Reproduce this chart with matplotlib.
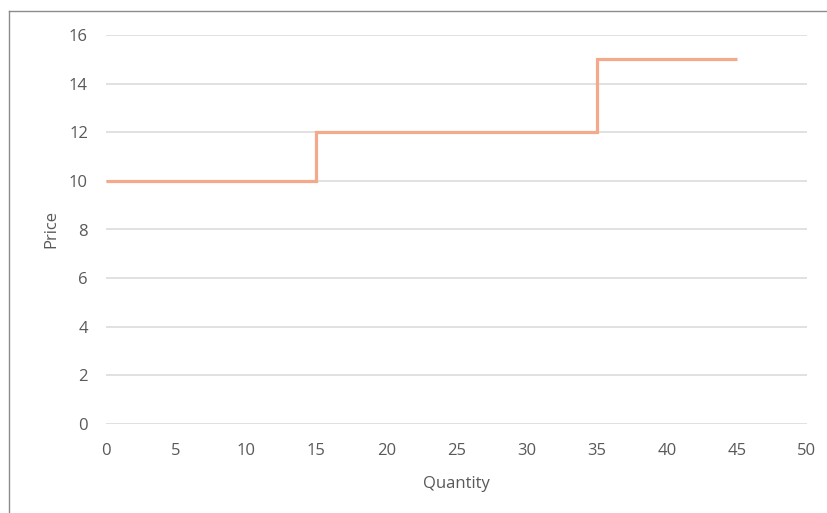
import matplotlib
matplotlib.use("Agg")
from matplotlib import pyplot as plt
from matplotlib.lines import Line2D

# step supply curve: (quantity, price) corners
quantity = [0, 15, 15, 35, 35, 45]
price = [10, 10, 12, 12, 15, 15]

x_ticks = [0, 5, 10, 15, 20, 25, 30, 35, 40, 45, 50]
y_ticks = [0, 2, 4, 6, 8, 10, 12, 14, 16]

plt.rcParams['font.family'] = ['Open Sans', 'DejaVu Sans']
text_color = '#595959'

fig = plt.figure(figsize=(8.28, 5.13), dpi=100)
ax = fig.add_axes([106 / 828, 89 / 513, 701 / 828, 389 / 513])

ax.plot(quantity, price, color='#F4A98B', linewidth=2.3,
        solid_joinstyle='miter', solid_capstyle='butt', zorder=3)

ax.set_xlim(0, 50)
ax.set_ylim(0, 16)
ax.set_xticks(x_ticks)
ax.set_yticks(y_ticks)
ax.grid(axis='y', color='#D9D9D9', linewidth=1.1)
ax.set_axisbelow(True)
for s in ax.spines.values():
    s.set_visible(False)
ax.tick_params(length=0, labelsize=12, colors=text_color)
ax.tick_params(axis='x', pad=14)
ax.tick_params(axis='y', pad=13)

ax.set_xlabel('Quantity', fontsize=12, color=text_color, labelpad=12)
ax.set_ylabel('Price', fontsize=12, color=text_color, labelpad=7)

# outer chart border (top and left visible)
fig.add_artist(Line2D([9 / 828, 9 / 828], [0, 1 - 11 / 513],
                      transform=fig.transFigure, color='#8C8C8C', linewidth=1))
fig.add_artist(Line2D([9 / 828, 1], [1 - 11 / 513, 1 - 11 / 513],
                      transform=fig.transFigure, color='#8C8C8C', linewidth=1))

fig.savefig('out.png', dpi=100)
